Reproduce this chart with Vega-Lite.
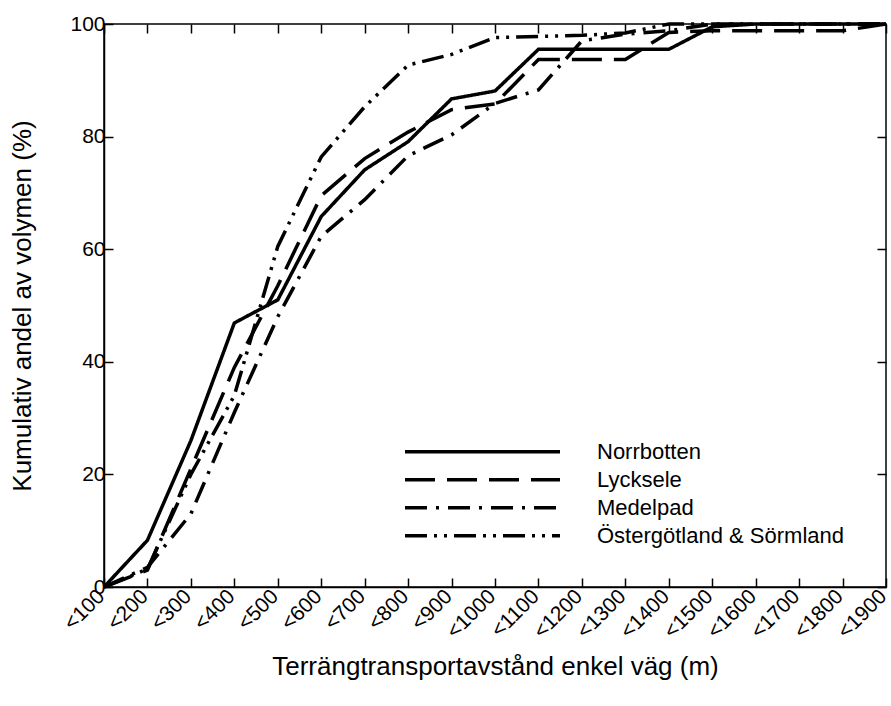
{
  "$schema": "https://vega.github.io/schema/vega-lite/v6.json",
  "width": 782,
  "height": 563,
  "autosize": {"type": "none"},
  "padding": {"left": 104, "top": 24, "right": 5, "bottom": 119},
  "background": "white",
  "config": {
    "font": "Liberation Sans",
    "view": {"stroke": "black", "strokeWidth": 1.5},
    "axis": {
      "domainColor": "black", "domainWidth": 1.5,
      "tickColor": "black", "tickWidth": 1.5, "tickSize": -9,
      "labelColor": "black", "labelFontSize": 21, "labelFont": "Liberation Sans",
      "titleColor": "black", "titleFontSize": 26, "titleFontWeight": "normal", "titleFont": "Liberation Sans",
      "grid": false
    }
  },
  "data": {"values": [
    {"d": "<100", "region": "Norrbotten", "v": 0},
    {"d": "<200", "region": "Norrbotten", "v": 8.3},
    {"d": "<300", "region": "Norrbotten", "v": 26},
    {"d": "<400", "region": "Norrbotten", "v": 46.9},
    {"d": "<500", "region": "Norrbotten", "v": 51},
    {"d": "<600", "region": "Norrbotten", "v": 65.8},
    {"d": "<700", "region": "Norrbotten", "v": 74.1},
    {"d": "<800", "region": "Norrbotten", "v": 79.1},
    {"d": "<900", "region": "Norrbotten", "v": 86.7},
    {"d": "<1000", "region": "Norrbotten", "v": 88.1},
    {"d": "<1100", "region": "Norrbotten", "v": 95.5},
    {"d": "<1200", "region": "Norrbotten", "v": 95.5},
    {"d": "<1300", "region": "Norrbotten", "v": 95.5},
    {"d": "<1400", "region": "Norrbotten", "v": 95.5},
    {"d": "<1500", "region": "Norrbotten", "v": 99.5},
    {"d": "<1600", "region": "Norrbotten", "v": 100},
    {"d": "<1700", "region": "Norrbotten", "v": 100},
    {"d": "<1800", "region": "Norrbotten", "v": 100},
    {"d": "<1900", "region": "Norrbotten", "v": 100},
    {"d": "<100", "region": "Lycksele", "v": 0},
    {"d": "<200", "region": "Lycksele", "v": 3},
    {"d": "<300", "region": "Lycksele", "v": 21},
    {"d": "<400", "region": "Lycksele", "v": 39},
    {"d": "<500", "region": "Lycksele", "v": 53.5},
    {"d": "<600", "region": "Lycksele", "v": 69.5},
    {"d": "<700", "region": "Lycksele", "v": 76.1},
    {"d": "<800", "region": "Lycksele", "v": 80.8},
    {"d": "<900", "region": "Lycksele", "v": 84.8},
    {"d": "<1000", "region": "Lycksele", "v": 85.8},
    {"d": "<1100", "region": "Lycksele", "v": 93.7},
    {"d": "<1200", "region": "Lycksele", "v": 93.7},
    {"d": "<1300", "region": "Lycksele", "v": 93.7},
    {"d": "<1400", "region": "Lycksele", "v": 98.5},
    {"d": "<1500", "region": "Lycksele", "v": 98.8},
    {"d": "<1600", "region": "Lycksele", "v": 98.8},
    {"d": "<1700", "region": "Lycksele", "v": 98.8},
    {"d": "<1800", "region": "Lycksele", "v": 98.8},
    {"d": "<1900", "region": "Lycksele", "v": 100},
    {"d": "<100", "region": "Medelpad", "v": 0},
    {"d": "<200", "region": "Medelpad", "v": 3.5},
    {"d": "<300", "region": "Medelpad", "v": 13},
    {"d": "<400", "region": "Medelpad", "v": 31},
    {"d": "<500", "region": "Medelpad", "v": 48},
    {"d": "<600", "region": "Medelpad", "v": 62.3},
    {"d": "<700", "region": "Medelpad", "v": 68.8},
    {"d": "<800", "region": "Medelpad", "v": 76.6},
    {"d": "<900", "region": "Medelpad", "v": 80.3},
    {"d": "<1000", "region": "Medelpad", "v": 85.9},
    {"d": "<1100", "region": "Medelpad", "v": 88.3},
    {"d": "<1200", "region": "Medelpad", "v": 97},
    {"d": "<1300", "region": "Medelpad", "v": 98.2},
    {"d": "<1400", "region": "Medelpad", "v": 98.8},
    {"d": "<1500", "region": "Medelpad", "v": 100},
    {"d": "<1600", "region": "Medelpad", "v": 100},
    {"d": "<1700", "region": "Medelpad", "v": 100},
    {"d": "<1800", "region": "Medelpad", "v": 100},
    {"d": "<1900", "region": "Medelpad", "v": 100},
    {"d": "<100", "region": "Östergötland & Sörmland", "v": 0},
    {"d": "<200", "region": "Östergötland & Sörmland", "v": 3.2},
    {"d": "<300", "region": "Östergötland & Sörmland", "v": 20},
    {"d": "<400", "region": "Östergötland & Sörmland", "v": 34},
    {"d": "<500", "region": "Östergötland & Sörmland", "v": 60.5},
    {"d": "<600", "region": "Östergötland & Sörmland", "v": 76.4},
    {"d": "<700", "region": "Östergötland & Sörmland", "v": 85.3},
    {"d": "<800", "region": "Östergötland & Sörmland", "v": 92.7},
    {"d": "<900", "region": "Östergötland & Sörmland", "v": 94.6},
    {"d": "<1000", "region": "Östergötland & Sörmland", "v": 97.6},
    {"d": "<1100", "region": "Östergötland & Sörmland", "v": 97.8},
    {"d": "<1200", "region": "Östergötland & Sörmland", "v": 98},
    {"d": "<1300", "region": "Östergötland & Sörmland", "v": 98.4},
    {"d": "<1400", "region": "Östergötland & Sörmland", "v": 100},
    {"d": "<1500", "region": "Östergötland & Sörmland", "v": 100},
    {"d": "<1600", "region": "Östergötland & Sörmland", "v": 100},
    {"d": "<1700", "region": "Östergötland & Sörmland", "v": 100},
    {"d": "<1800", "region": "Östergötland & Sörmland", "v": 100},
    {"d": "<1900", "region": "Östergötland & Sörmland", "v": 100}
  ]},
  "layer": [
    {
      "mark": {"type": "line", "strokeWidth": 3.5, "color": "black"},
      "encoding": {
        "x": {
          "field": "d", "type": "ordinal", "sort": null,
          "scale": {"type": "point", "padding": 0},
          "axis": {
            "orient": "bottom", "labelAngle": -45, "labelAlign": "right", "labelBaseline": "middle",
            "labelPadding": 15, "labelOffset": -3, "labelFlush": false, "title": "Terrängtransportavstånd enkel väg (m)",
            "titleY": 87, "titleBaseline": "alphabetic"
          }
        },
        "y": {
          "field": "v", "type": "quantitative",
          "scale": {"domain": [0, 100], "nice": false},
          "axis": {
            "orient": "left", "values": [0, 20, 40, 60, 80, 100], "labelPadding": 8,
            "title": "Kumulativ andel av volymen (%)", "titleX": -74, "titleBaseline": "alphabetic"
          }
        },
        "strokeDash": {
          "field": "region", "type": "nominal",
          "scale": {
            "domain": ["Norrbotten", "Lycksele", "Medelpad", "Östergötland & Sörmland"],
            "range": [[1, 0], [30, 12], [22, 9, 3, 9], [22, 7, 3, 7, 3, 7]]
          },
          "legend": {
            "orient": "none", "legendX": 299, "legendY": 414, "title": null,
            "symbolType": "stroke", "symbolSize": 24025, "symbolStrokeWidth": 3.5,
            "symbolStrokeColor": "black", "clipHeight": 27.7, "labelOffset": 35,
            "labelFontSize": 22, "labelColor": "black", "labelFont": "Liberation Sans",
            "labelLimit": 400, "padding": 0, "rowPadding": 0
          }
        }
      }
    },
    {
      "mark": {"type": "line", "opacity": 0},
      "encoding": {
        "x": {
          "field": "d", "type": "ordinal", "sort": null,
          "scale": {"type": "point", "padding": 0},
          "axis": {"orient": "top", "labels": false, "domain": false, "title": null}
        },
        "y": {
          "field": "v", "type": "quantitative",
          "scale": {"domain": [0, 100], "nice": false},
          "axis": {"orient": "right", "labels": false, "domain": false, "title": null, "values": [0, 20, 40, 60, 80, 100]}
        },
        "detail": {"field": "region", "type": "nominal"}
      }
    }
  ],
  "resolve": {"axis": {"x": "independent", "y": "independent"}}
}
